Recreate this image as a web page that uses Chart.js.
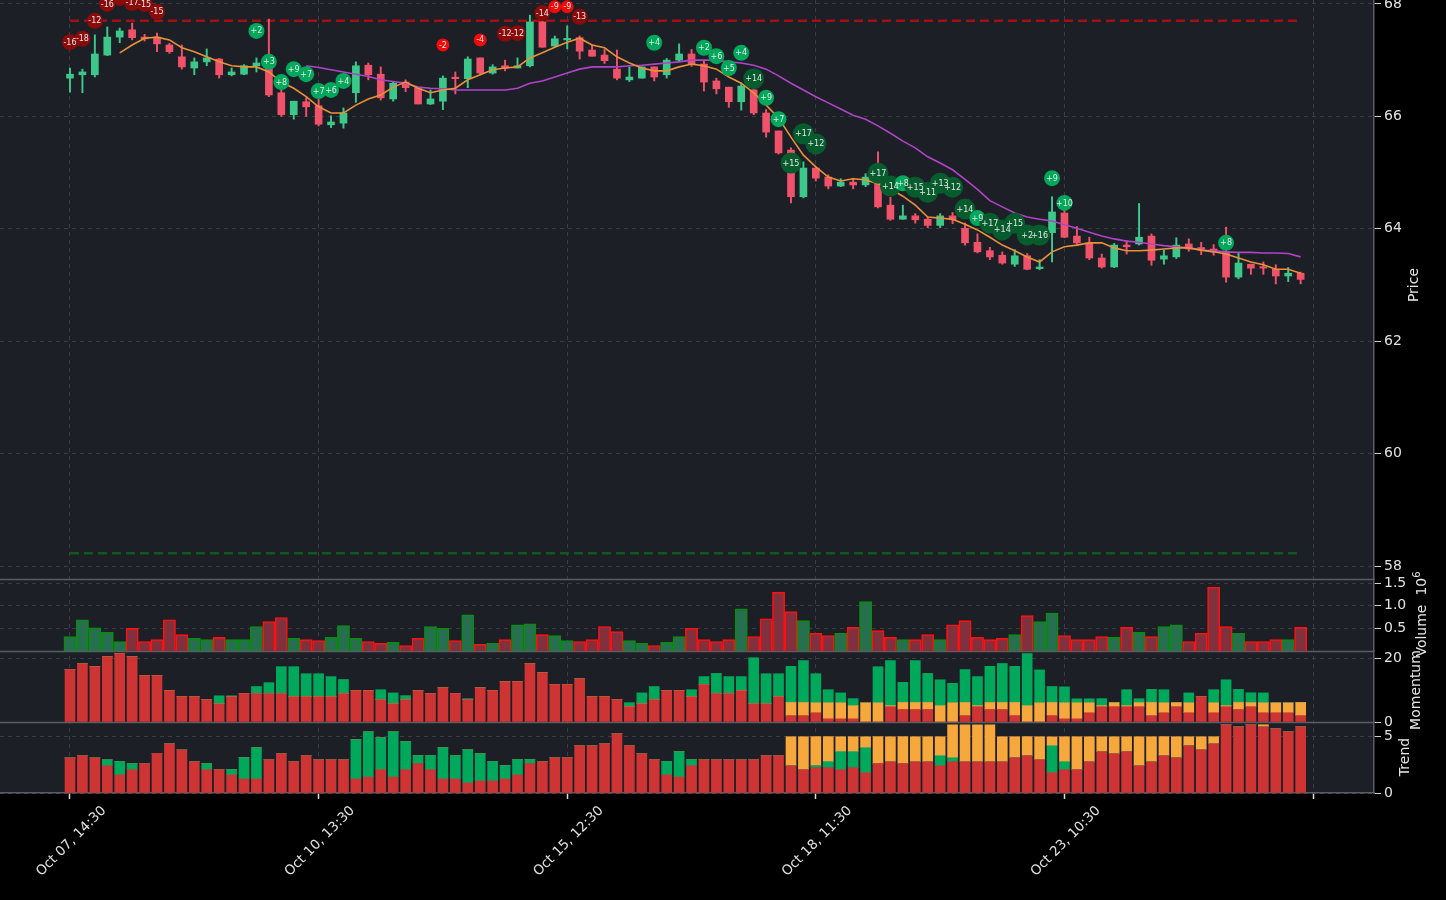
<!DOCTYPE html>
<html>
<head>
<meta charset="utf-8">
<script src="https://cdn.jsdelivr.net/npm/chart.js@4"></script>
<style>
  html, body { margin: 0; padding: 0; background: #000; }
  #wrap { position: relative; width: 1446px; height: 900px; overflow: hidden; }
  #chart { position: absolute; left: 0; top: 0; }
  .ylab {
    position: absolute;
    color: #e6e6e6;
    font: 14px "DejaVu Sans", sans-serif;
    white-space: nowrap;
    transform: translate(-50%, -50%) rotate(-90deg);
  }
  .ylab sup { font-size: 10px; }
</style>
</head>
<body>
<div id="wrap">
  <canvas id="chart" width="1446" height="900"></canvas>
  <div class="ylab" style="left:1413px;top:285px">Price</div>
  <div class="ylab" style="left:1420px;top:614px">Volume&nbsp;&nbsp;10<sup>6</sup></div>
  <div class="ylab" style="left:1415px;top:690px">Momentum</div>
  <div class="ylab" style="left:1404px;top:757px">Trend</div>
</div>
<script>
// --- data ---
const xTickPos = [0, 20, 40, 60, 80, 100];
const xTickLabels = ['Oct 07, 14:30', 'Oct 10, 13:30', 'Oct 15, 12:30', 'Oct 18, 11:30', 'Oct 23, 10:30', ''];

const open = [66.68,66.74,66.74,67.09,67.41,67.54,67.41,67.41,67.27,67.06,
  66.86,66.97,67.02,66.74,66.75,66.90,66.88,66.42,66.03,66.26,
  66.19,65.85,65.88,66.42,66.91,66.75,66.31,66.61,66.51,66.22,
  66.27,66.69,66.67,67.04,66.77,66.90,66.86,66.90,67.68,67.25,
  67.36,67.40,67.18,67.09,66.84,66.65,66.68,66.88,66.74,67.00,
  67.11,66.93,66.63,66.52,66.26,66.47,66.06,65.74,65.40,64.57,
  65.08,64.92,64.76,64.83,64.78,64.88,64.42,64.17,64.23,64.17,
  64.06,64.23,64.01,63.76,63.61,63.53,63.37,63.52,63.29,63.93,
  64.28,63.87,63.75,63.48,63.32,63.71,63.73,63.87,63.46,63.50,
  63.73,63.65,63.64,63.59,63.14,63.37,63.31,63.28,63.16,63.21];
const high = [66.86,66.84,67.45,67.59,67.57,67.66,67.46,67.48,67.30,67.27,
  67.04,67.20,67.03,66.86,66.92,67.04,67.73,66.50,66.27,66.33,
  66.30,66.01,66.15,66.97,66.95,66.88,66.61,66.65,66.51,66.47,
  66.72,66.79,67.06,67.04,66.92,67.00,67.04,67.80,67.70,67.43,
  67.61,67.43,67.27,67.19,67.18,66.88,66.88,66.88,67.03,67.29,
  67.19,67.00,66.68,66.52,66.59,66.50,66.12,65.74,65.44,65.19,
  65.10,64.96,64.89,64.90,64.98,65.37,64.56,64.42,64.27,64.21,
  64.27,64.29,64.10,63.91,63.67,63.59,63.63,63.56,63.45,64.57,
  64.33,64.04,63.85,63.55,63.74,63.79,64.45,63.91,63.62,63.84,
  63.82,63.76,63.72,64.03,63.57,63.37,63.41,63.36,63.31,63.23];
const low = [66.43,66.42,66.70,67.08,67.31,67.36,67.34,67.15,67.12,66.84,
  66.74,66.90,66.68,66.72,66.74,66.79,66.35,66.00,65.95,66.00,
  65.83,65.80,65.79,66.25,66.65,66.29,66.27,66.44,66.22,66.21,
  66.12,66.40,66.51,66.75,66.75,66.81,66.86,66.88,67.23,67.23,
  67.20,67.02,67.07,66.94,66.65,66.62,66.68,66.63,66.68,66.97,
  66.89,66.45,66.40,66.16,66.11,66.03,65.63,65.33,64.46,64.55,
  64.85,64.71,64.75,64.71,64.75,64.37,64.15,64.17,64.10,64.02,
  64.02,64.09,63.71,63.57,63.45,63.37,63.33,63.27,63.27,63.41,
  63.84,63.72,63.45,63.30,63.31,63.55,63.71,63.35,63.37,63.47,
  63.60,63.54,63.53,63.05,63.11,63.19,63.19,63.02,63.06,63.02];
const close = [66.75,66.79,67.11,67.41,67.52,67.40,67.38,67.29,67.15,66.88,
  66.97,67.04,66.74,66.79,66.90,66.95,66.38,66.03,66.27,66.17,
  65.86,65.90,66.06,66.90,66.74,66.33,66.59,66.51,66.22,66.31,
  66.68,66.67,67.02,66.77,66.88,66.86,66.90,67.68,67.23,67.38,
  67.37,67.16,67.07,66.99,66.68,66.70,66.88,66.70,67.00,67.11,
  66.93,66.61,66.49,66.26,66.54,66.06,65.72,65.35,64.57,65.08,
  64.90,64.76,64.83,64.78,64.92,64.39,64.17,64.23,64.16,64.06,
  64.23,64.16,63.75,63.59,63.50,63.39,63.52,63.28,63.32,64.30,
  63.85,63.75,63.48,63.32,63.71,63.68,63.85,63.44,63.52,63.71,
  63.64,63.64,63.59,63.14,63.39,63.30,63.30,63.16,63.21,63.10];

const maFast = [null,null,null,null,67.13,67.27,67.39,67.41,67.36,67.22,
  67.15,67.06,66.97,66.90,66.88,66.88,66.79,66.61,66.50,66.35,
  66.17,66.06,66.06,66.20,66.31,66.38,66.52,66.61,66.50,66.42,
  66.47,66.50,66.65,66.74,66.83,66.86,66.88,67.04,67.13,67.23,
  67.32,67.39,67.27,67.22,67.06,66.95,66.86,66.81,66.81,66.88,
  66.93,66.90,66.84,66.70,66.59,66.42,66.20,65.97,65.63,65.31,
  65.10,64.92,64.85,64.89,64.87,64.80,64.71,64.58,64.42,64.21,
  64.19,64.17,64.08,63.98,63.85,63.71,63.61,63.50,63.41,63.59,
  63.68,63.71,63.75,63.75,63.66,63.61,63.61,63.62,63.64,63.66,
  63.66,63.62,63.59,63.55,63.48,63.41,63.36,63.28,63.28,63.21];
const maSlow = [null,null,null,null,null,null,null,null,null,null,
  null,null,null,null,null,null,null,null,null,66.90,
  66.87,66.83,66.79,66.75,66.71,66.65,66.62,66.59,66.52,66.50,
  66.49,66.47,66.47,66.47,66.47,66.47,66.50,66.59,66.63,66.70,
  66.77,66.84,66.88,66.88,66.88,66.90,66.91,66.93,66.95,66.97,
  67.00,67.00,67.00,66.97,66.95,66.91,66.84,66.72,66.59,66.47,
  66.35,66.24,66.13,66.02,65.95,65.83,65.70,65.56,65.44,65.28,
  65.17,65.05,64.88,64.70,64.50,64.39,64.28,64.21,64.17,64.14,
  64.07,64.01,63.94,63.87,63.82,63.78,63.76,63.73,63.70,63.68,
  63.66,63.62,63.61,63.59,63.58,63.58,63.57,63.57,63.56,63.50];

const resistanceLevel = 67.70;
const supportLevel = 58.23;

const annIdx = [0,1,2,3,4,5,6,7,15,16,17,18,19,20,21,22,30,33,35,36,38,39,40,41,47,
  51,52,53,54,55,56,57,58,59,60,65,66,67,68,69,70,71,72,73,74,75,76,77,78,79,80,93];
const annPrice = [67.32,67.38,67.70,68.00,68.11,68.02,68.00,67.86,67.52,66.97,66.61,66.84,66.75,66.45,66.47,66.63,
  67.27,67.36,67.47,67.48,67.84,67.95,67.95,67.77,67.31,
  67.22,67.07,66.86,67.13,66.67,66.33,65.95,65.17,65.69,65.51,64.99,64.76,64.81,64.74,64.65,64.81,64.74,
  64.35,64.19,64.10,63.98,64.10,63.89,63.89,64.90,64.46,63.75];
const annText = ['-16','-18','-12','-16','-17','-17','-15','-15','+2','+3','+8','+9','+7','+7','+6','+4',
  '-2','-4','-12','-12','-14','-9','-9','-13','+4',
  '+2','+6','+5','+4','+14','+9','+7','+15','+17','+12','+17','+14','+8','+15','+11','+13','+12',
  '+14','+9','+17','+14','+15','+2','+16','+9','+10','+8'];
// kind: dr = strong sell, br = sell, dg = strong buy, bg = buy
const annKind = ['dr','dr','dr','dr','dr','dr','dr','dr','bg','bg','bg','bg','bg','bg','bg','bg',
  'br','br','dr','dr','dr','br','br','dr','bg',
  'bg','bg','bg','bg','dg','bg','bg','dg','dg','dg','dg','dg','bg','dg','dg','dg','dg',
  'dg','bg','dg','dg','dg','dg','dg','bg','bg','bg'];

const volume = [0.32,0.69,0.51,0.41,0.21,0.50,0.21,0.25,0.69,0.36,
  0.28,0.25,0.30,0.25,0.25,0.54,0.65,0.74,0.28,0.25,
  0.23,0.30,0.56,0.28,0.21,0.17,0.19,0.12,0.28,0.54,
  0.50,0.23,0.80,0.15,0.17,0.25,0.58,0.60,0.36,0.34,
  0.23,0.21,0.25,0.54,0.43,0.23,0.17,0.12,0.19,0.32,
  0.50,0.25,0.21,0.25,0.93,0.32,0.71,1.30,0.87,0.67,
  0.39,0.34,0.39,0.52,1.09,0.45,0.30,0.25,0.25,0.36,
  0.25,0.58,0.67,0.30,0.25,0.28,0.36,0.78,0.65,0.84,
  0.34,0.25,0.25,0.32,0.30,0.52,0.41,0.32,0.54,0.58,
  0.21,0.39,1.41,0.54,0.39,0.21,0.21,0.25,0.25,0.52];

const momRed = [16.4,18.2,17.3,20.4,21.4,20.4,14.5,14.5,9.8,7.9,
  7.9,7.0,5.7,7.9,8.9,8.9,8.9,8.9,7.9,7.9,
  7.9,7.9,8.9,9.8,9.8,7.0,5.7,7.0,9.8,8.9,
  10.7,8.9,7.0,10.7,9.8,12.6,12.6,18.2,15.4,11.7,
  11.7,13.5,7.9,7.9,7.0,4.8,5.7,7.0,9.8,9.8,
  7.9,11.7,8.9,8.9,9.8,5.7,5.7,7.9,2.0,2.0,
  2.9,1.0,1.0,1.0,0,0,4.8,3.9,3.9,3.9,
  0,0,2.0,4.8,3.9,3.9,2.0,0,0,2.0,
  1.0,1.0,2.9,4.8,4.8,4.8,4.8,2.0,2.9,4.8,
  2.9,7.9,2.9,4.8,3.9,4.8,2.9,2.9,2.9,2.0];
const momOrange = [0,0,0,0,0,0,0,0,0,0,
  0,0,0,0,0,0,0,0,0,0,
  0,0,0,0,0,0,0,0,0,0,
  0,0,0,0,0,0,0,0,0,0,
  0,0,0,0,0,0,0,0,0,0,
  0,0,0,0,0,0,0,0,4.1,4.1,
  3.1,5.0,5.0,4.1,6.0,6.0,0.3,2.2,2.2,2.2,
  5.1,6.0,4.1,0.3,2.2,2.2,4.1,5.1,6.0,4.1,
  5.0,5.0,3.1,0.3,1.25,0.3,1.25,4.1,3.1,1.25,
  3.1,0,3.1,0.3,2.2,1.25,3.1,3.1,3.1,4.1];
const momGreen = [0,0,0,0,0,0,0,0,0,0,
  0,0,2.5,0.3,0,2.2,3.4,8.4,9.4,7.2,
  7.2,6.3,4.4,0,0,3.1,3.4,1.25,0,0,
  0,0,0.3,0,0,0,0,0,0,0,
  0,0,0,0,0,1.25,3.4,4.1,0,0,
  2.2,2.5,6.3,5.3,4.4,14.4,9.4,7.2,11.3,13.1,
  9.1,4.1,3.1,2.2,0,11.3,14.1,6.3,13.1,9.1,
  8.1,6.1,10.3,9.1,11.3,12.2,11.3,16.3,10.3,5.0,
  5.0,1.25,1.25,2.2,0,5.0,1.25,4.1,4.1,0,
  3.1,0,4.1,8.1,4.1,3.1,3.1,0,0,0];

const trendRed = [3.1,3.3,3.1,2.4,1.6,2.06,2.6,3.5,4.35,3.8,
  2.76,2.06,2.06,1.6,1.24,1.24,2.94,3.47,2.76,3.3,
  2.94,2.94,2.94,1.24,1.41,2.06,1.41,2.06,2.6,2.06,
  1.24,1.24,0.88,1.06,1.06,1.24,1.6,2.6,2.76,3.12,
  3.12,4.18,4.18,4.35,5.24,4.18,3.47,2.94,1.6,1.41,
  2.41,2.94,2.94,2.94,2.94,2.94,3.3,3.3,2.41,2.06,
  2.24,2.24,2.06,2.24,1.79,2.6,2.76,2.6,2.76,2.76,
  2.41,2.76,2.76,2.76,2.76,2.76,3.12,3.3,2.94,1.79,
  2.06,2.06,2.76,3.65,3.47,3.65,2.41,2.76,3.3,3.12,
  4.18,3.82,4.35,6.03,5.85,6.03,5.85,5.68,5.41,5.85];
const trendGreen = [0,0,0,0.53,1.18,0.53,0,0,0,0,
  0,0.53,0,0.47,1.88,2.76,0,0,0,0,
  0,0,0,3.47,3.99,2.82,3.99,2.47,0.7,1.24,
  2.76,2.06,2.94,2.41,1.71,1.18,1.35,0.35,0,0,
  0,0,0,0,0,0,0,0,1.18,2.24,
  0.53,0,0,0,0,0,0,0,0,0,
  0.18,0.53,1.59,1.41,2.21,0,0,0,0,0,
  0.88,0.35,0,0,0,0,0,0,0,2.38,
  0.7,0,0,0,0,0,0,0,0,0,
  0,0,0,0,0,0,0,0,0,0];
const trendOrange = [0,0,0,0,0,0,0,0,0,0,
  0,0,0,0,0,0,0,0,0,0,
  0,0,0,0,0,0,0,0,0,0,
  0,0,0,0,0,0,0,0,0,0,
  0,0,0,0,0,0,0,0,0,0,
  0,0,0,0,0,0,0,0,2.56,2.91,
  2.56,2.21,1.32,1.32,0.97,2.38,2.21,2.38,2.21,2.21,
  1.68,2.91,3.26,3.26,3.26,2.21,1.85,1.68,2.03,0.79,
  2.21,2.91,2.21,1.32,1.5,1.32,2.56,2.21,1.68,1.85,
  0.79,1.15,0.62,0,0,0,0.18,0,0,0];

// --- colours ---
const UP = '#3cc88a', DOWN = '#f0526a';
const RED = '#cf3434', GREEN = '#00a85c', ORANGE = '#f7a83c';
const GRID = '#3a3d44';
const TXT = '#e2e2e2';
const annColors = { dr: '#8b0a0a', br: '#f00a0a', dg: '#075c2e', bg: '#00a85c' };
const annRadius = { dr: 8, br: 6.5, dg: 10.5, bg: 8 };

const isUp = open.map((o, i) => close[i] >= o);
const pts = (arr) => arr.map((v, i) => ({ x: i, y: v }));

const bgPlugin = {
  id: 'bg',
  beforeDraw(chart) {
    const { ctx, chartArea: a } = chart;
    ctx.save();
    ctx.fillStyle = '#1c1f25';
    ctx.fillRect(a.left, a.top, a.right - a.left, a.bottom - a.top);
    ctx.restore();
  },
  beforeDatasetsDraw(chart) {
    const { ctx, chartArea: a } = chart;
    ctx.save();
    ctx.strokeStyle = '#5a5d63';
    ctx.lineWidth = 1.5;
    ['yV', 'yM', 'yT'].forEach(id => {
      const y = Math.round(chart.scales[id].top) + 0.5;
      ctx.beginPath();
      ctx.moveTo(a.left, y);
      ctx.lineTo(a.right, y);
      ctx.stroke();
    });
    ctx.restore();
  }
};

const annLabels = {
  id: 'annLabels',
  afterDatasetsDraw(chart) {
    const meta = chart.getDatasetMeta(0);
    const ctx = chart.ctx;
    ctx.save();
    ctx.font = '8px "DejaVu Sans", sans-serif';
    ctx.textAlign = 'center';
    ctx.textBaseline = 'middle';
    ctx.fillStyle = '#e6e6e6';
    meta.data.forEach((pt, k) => ctx.fillText(annText[k], pt.x, pt.y + 0.5));
    ctx.restore();
  }
};

Chart.defaults.font.family = '"DejaVu Sans", sans-serif';
Chart.defaults.color = TXT;

function yAxis(stackWeight, min, max, ticks, fmt) {
  return {
    type: 'linear',
    position: 'right',
    stack: 'panels',
    stackWeight: stackWeight,
    stacked: false,
    min: min,
    max: max,
    afterBuildTicks: s => { s.ticks = ticks.map(v => ({ value: v })); },
    afterFit: s => { s.width = 72; s.paddingTop = 0; s.paddingBottom = 0; },
    ticks: { color: TXT, font: { size: 14 }, padding: 3, callback: fmt || (v => v) },
    grid: { color: GRID, lineWidth: 1, tickColor: '#cfcfcf', tickLength: 7, tickWidth: 1, tickBorderDash: [] },
    border: { color: '#5a5d63', width: 1.5, dash: [4, 4] }
  };
}

const scales = {
  x: {
    type: 'linear',
    offset: false,
    min: -5.63,
    max: 104.9,
    afterBuildTicks: s => { s.ticks = xTickPos.map(v => ({ value: v })); },
    afterFit: s => { s.height = 107; s.paddingLeft = 0; s.paddingRight = 0; },
    ticks: {
      color: TXT, font: { size: 13.5 }, autoSkip: false, minRotation: 45, maxRotation: 45, padding: 4,
      labelOffset: 34,
      callback: v => xTickLabels[xTickPos.indexOf(v)]
    },
    grid: { offset: false, color: GRID, lineWidth: 1, tickColor: '#dddddd', tickLength: 6, tickWidth: 1.5, tickBorderDash: [] },
    border: { color: '#5a5d63', width: 1.5, dash: [4, 4] }
  },
  yP: yAxis(579, 57.77, 68.07, [58, 60, 62, 64, 66, 68]),
  yV: yAxis(72, 0, 1.59, [0.5, 1.0, 1.5], v => v.toFixed(1)),
  yM: Object.assign(yAxis(71, 0, 22.2, [0, 20]), { stacked: true }),
  yT: Object.assign(yAxis(71, 0, 6.27, [0, 5]), { stacked: true })
};

const datasets = [
  {
    type: 'scatter', label: 'signals', yAxisID: 'yP', order: 0,
    data: annIdx.map((x, k) => ({ x: x, y: annPrice[k] })),
    pointRadius: annKind.map(k => annRadius[k]),
    pointBackgroundColor: annKind.map(k => annColors[k]),
    pointBorderWidth: 0, showLine: false
  },
  {
    type: 'line', label: 'MA fast', yAxisID: 'yP', order: 1,
    data: pts(maFast), borderColor: '#e8913a', borderWidth: 1.6, pointRadius: 0, spanGaps: false, tension: 0
  },
  {
    type: 'line', label: 'MA slow', yAxisID: 'yP', order: 1,
    data: pts(maSlow), borderColor: '#b044c8', borderWidth: 1.6, pointRadius: 0, spanGaps: false, tension: 0
  },
  {
    type: 'bar', label: 'body', yAxisID: 'yP', order: 2, grouped: false,
    data: open.map((o, i) => ({ x: i, y: [o, close[i]] })),
    backgroundColor: isUp.map(u => u ? UP : DOWN),
    barThickness: 7, minBarLength: 1.5, borderWidth: 0
  },
  {
    type: 'bar', label: 'wick', yAxisID: 'yP', order: 3, grouped: false,
    data: low.map((l, i) => ({ x: i, y: [l, high[i]] })),
    backgroundColor: isUp.map(u => u ? UP : DOWN),
    barThickness: 1.3, borderWidth: 0
  },
  {
    type: 'line', label: 'resistance', yAxisID: 'yP', order: 4,
    data: [{ x: 0, y: resistanceLevel }, { x: 99, y: resistanceLevel }],
    borderColor: '#a01212', borderWidth: 2.5, borderDash: [9, 5], pointRadius: 0
  },
  {
    type: 'line', label: 'support', yAxisID: 'yP', order: 4,
    data: [{ x: 0, y: supportLevel }, { x: 99, y: supportLevel }],
    borderColor: '#0e5a1c', borderWidth: 2.5, borderDash: [9, 5], pointRadius: 0
  },
  {
    type: 'bar', label: 'volume', yAxisID: 'yV', order: 5, grouped: false,
    data: pts(volume),
    backgroundColor: isUp.map(u => u ? '#27704f' : '#81303e'),
    borderColor: isUp.map(u => u ? '#0c8a12' : '#ff1010'),
    borderWidth: 1.6, barThickness: 12.2
  },
  { type: 'bar', label: 'mom red', yAxisID: 'yM', stack: 'mom', order: 6, grouped: false,
    data: pts(momRed), backgroundColor: RED, barThickness: 10, borderWidth: 0 },
  { type: 'bar', label: 'mom orange', yAxisID: 'yM', stack: 'mom', order: 6, grouped: false,
    data: pts(momOrange), backgroundColor: ORANGE, barThickness: 10, borderWidth: 0 },
  { type: 'bar', label: 'mom green', yAxisID: 'yM', stack: 'mom', order: 6, grouped: false,
    data: pts(momGreen), backgroundColor: GREEN, barThickness: 10, borderWidth: 0 },
  { type: 'bar', label: 'trend red', yAxisID: 'yT', stack: 'trend', order: 7, grouped: false,
    data: pts(trendRed), backgroundColor: RED, barThickness: 10, borderWidth: 0 },
  { type: 'bar', label: 'trend green', yAxisID: 'yT', stack: 'trend', order: 7, grouped: false,
    data: pts(trendGreen), backgroundColor: GREEN, barThickness: 10, borderWidth: 0 },
  { type: 'bar', label: 'trend orange', yAxisID: 'yT', stack: 'trend', order: 7, grouped: false,
    data: pts(trendOrange), backgroundColor: ORANGE, barThickness: 10, borderWidth: 0 }
];

new Chart(document.getElementById('chart'), {
  type: 'bar',
  data: { datasets: datasets },
  options: {
    responsive: false,
    animation: false,
    devicePixelRatio: 1,
    layout: { padding: 0, autoPadding: false },
    plugins: { legend: { display: false }, tooltip: { enabled: false } },
    scales: scales
  },
  plugins: [bgPlugin, annLabels]
});
</script>
</body>
</html>
